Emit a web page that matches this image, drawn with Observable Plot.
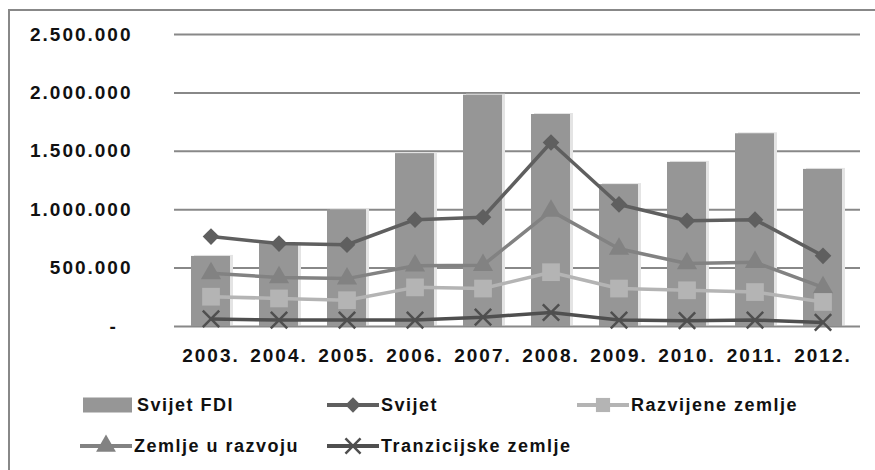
<!DOCTYPE html>
<html>
<head>
<meta charset="utf-8">
<script src="https://cdn.jsdelivr.net/npm/d3@7"></script>
<script src="https://cdn.jsdelivr.net/npm/@observablehq/plot@0.6"></script>
<style>
  html, body { margin: 0; padding: 0; background: #fff; }
  #wrap { position: relative; width: 875px; height: 470px; overflow: hidden; font-family: "Liberation Sans", Arial, sans-serif; }
  #frame { position: absolute; left: 8px; top: 9px; width: 900px; height: 520px; border: 2px solid #888; box-sizing: border-box; }
  #chart { position: absolute; left: 0; top: 0; }
  #chart text { font-weight: bold; letter-spacing: 2px; fill: #111; }
  .leg { position: absolute; display: flex; align-items: center; font-size: 18px; font-weight: bold; letter-spacing: 1.5px; color: #111; white-space: nowrap; }
  .leg svg { display: block; margin-right: 2px; }
</style>
</head>
<body>
<div id="wrap">
  <div id="frame"></div>
  <div id="chart"></div>
  <div id="legend"></div>
</div>
<script>
const years = ["2003.", "2004.", "2005.", "2006.", "2007.", "2008.", "2009.", "2010.", "2011.", "2012."];
const svijetFDI = [600000, 710000, 1000000, 1480000, 1980000, 1815000, 1215000, 1405000, 1650000, 1345000];
const svijet = [770000, 710000, 700000, 915000, 935000, 1575000, 1045000, 905000, 915000, 605000];
const razvijene = [255000, 240000, 225000, 335000, 325000, 465000, 325000, 310000, 295000, 210000];
const razvoju = [455000, 420000, 410000, 520000, 525000, 990000, 665000, 540000, 550000, 335000];
const tranzicijske = [65000, 55000, 55000, 55000, 80000, 120000, 55000, 50000, 55000, 35000];
const yTicks = [0, 500000, 1000000, 1500000, 2000000, 2500000];

const bars = years.map((y, i) => ({year: y, value: svijetFDI[i]}));
const rows = (arr) => years.map((y, i) => ({year: y, value: arr[i]}));

const fmt = d => d === 0 ? "-\u00a0\u00a0" : d3.format(",")(d).replace(/,/g, ".");

const plot = Plot.plot({
  width: 875,
  height: 380,
  marginLeft: 174,
  marginRight: 15,
  marginTop: 34,
  marginBottom: 54,
  style: {fontFamily: "'Liberation Sans', Arial, sans-serif", fontSize: "19px", background: "transparent", overflow: "visible"},
  x: {domain: years, paddingInner: 0.42, paddingOuter: 0.21, align: 0.5, tickSize: 0, tickPadding: 22, label: null},
  y: {domain: [0, 2500000], ticks: yTicks, tickFormat: fmt, tickSize: 0, tickPadding: 42, label: null},
  marks: [
    Plot.ruleY(yTicks, {stroke: "#888", strokeWidth: 2}),
    Plot.barY(bars, {x: "year", y: "value", fill: "#e4e4e4", dx: 3, dy: -1}),
    Plot.barY(bars, {x: "year", y: "value", fill: "#969696"}),
    // Svijet
    Plot.line(rows(svijet), {x: "year", y: "value", stroke: "#5f5f5f", strokeWidth: 3.5}),
    Plot.dot(rows(svijet), {x: "year", y: "value", symbol: "diamond2", r: 7.5, fill: "#5f5f5f", stroke: "none"}),
    // Zemlje u razvoju
    Plot.line(rows(razvoju), {x: "year", y: "value", stroke: "#828282", strokeWidth: 3.5}),
    Plot.dot(rows(razvoju), {x: "year", y: "value", symbol: "triangle", r: 7.5, fill: "#828282", stroke: "none"}),
    // Razvijene zemlje
    Plot.line(rows(razvijene), {x: "year", y: "value", stroke: "#b4b4b4", strokeWidth: 3.5}),
    Plot.dot(rows(razvijene), {x: "year", y: "value", symbol: "square", r: 10, fill: "#b4b4b4", stroke: "none"}),
    // Tranzicijske zemlje
    Plot.line(rows(tranzicijske), {x: "year", y: "value", stroke: "#4f4f4f", strokeWidth: 3.5}),
    Plot.dot(rows(tranzicijske), {x: "year", y: "value", symbol: "times", r: 7.5, stroke: "#4f4f4f", strokeWidth: 2.5})
  ]
});
document.getElementById("chart").appendChild(plot);

// Legend
const legendItems = [
  {label: "Svijet FDI", kind: "bar", color: "#969696", left: 83, top: 405},
  {label: "Svijet", kind: "diamond", color: "#5f5f5f", left: 327, top: 405},
  {label: "Razvijene zemlje", kind: "square", color: "#b4b4b4", left: 577, top: 405},
  {label: "Zemlje u razvoju", kind: "triangle", color: "#828282", left: 80, top: 446},
  {label: "Tranzicijske zemlje", kind: "times", color: "#4f4f4f", left: 327, top: 446}
];
const legend = document.getElementById("legend");
for (const it of legendItems) {
  const div = document.createElement("div");
  div.className = "leg";
  div.style.left = it.left + "px";
  div.style.top = (it.top - 12) + "px";
  div.style.height = "24px";
  const w = 52, h = 24, cy = 12, cx = 26;
  let g = "";
  if (it.kind === "bar") {
    g = `<rect x="0" y="${cy - 7.5}" width="49" height="15" fill="${it.color}"/>`;
  } else {
    g = `<line x1="0" x2="${w}" y1="${cy}" y2="${cy}" stroke="${it.color}" stroke-width="4"/>`;
    const sym = {diamond: d3.symbolDiamond2, square: d3.symbolSquare, triangle: d3.symbolTriangle, times: d3.symbolTimes}[it.kind];
    const size = {diamond: 150, square: 200, triangle: 170, times: 150}[it.kind];
    const path = d3.symbol(sym, size)();
    if (it.kind === "times") g += `<path d="${path}" transform="translate(${cx},${cy})" fill="none" stroke="${it.color}" stroke-width="2.5"/>`;
    else g += `<path d="${path}" transform="translate(${cx},${cy})" fill="${it.color}"/>`;
  }
  div.innerHTML = `<svg width="${w}" height="${h}">${g}</svg><span>${it.label}</span>`;
  legend.appendChild(div);
}
</script>
</body>
</html>
